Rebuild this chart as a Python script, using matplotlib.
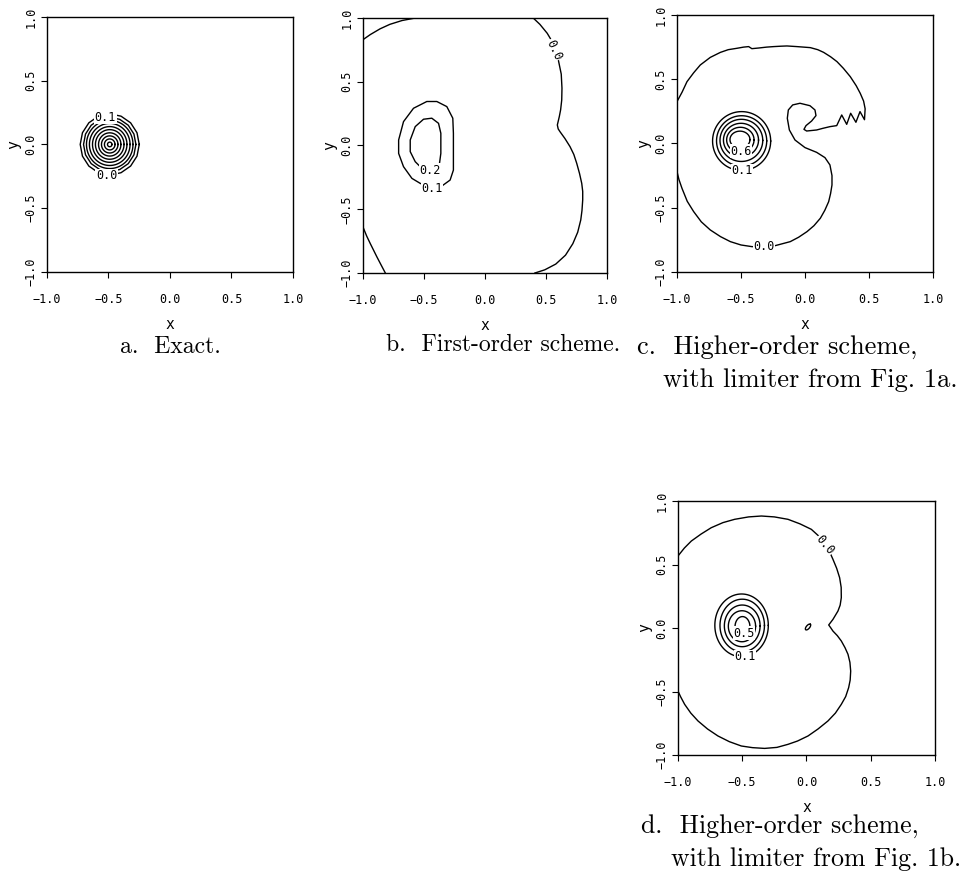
import numpy as np
import matplotlib.pyplot as plt

# tick values shared by all four panels
ticks = [-1.0, -0.5, 0.0, 0.5, 1.0]
tick_labels = ["\u22121.0", "\u22120.5", "0.0", "0.5", "1.0"]

# a. exact solution: concentric rings, levels 0.0 .. 0.9
a_center = (-0.49, 0.0)
a_levels = [0.0, 0.1, 0.2, 0.3, 0.4, 0.5, 0.6, 0.7, 0.8, 0.9]
a_radii = [0.240, 0.213, 0.189, 0.165, 0.140, 0.116, 0.091, 0.067, 0.043, 0.018]

# b. first-order scheme
b_c00_x = [0.395, 0.45, 0.51, 0.56, 0.601, 0.625, 0.631, 0.629, 0.62, 0.609, 0.593, 0.600,
           0.615, 0.655, 0.697, 0.728, 0.752, 0.775, 0.793, 0.801, 0.801, 0.795, 0.785, 0.76,
           0.72, 0.66, 0.58, 0.49, 0.409]
b_c00_y = [1.0, 0.95, 0.88, 0.80, 0.671, 0.56, 0.45, 0.357, 0.28, 0.226, 0.161, 0.13,
           0.108, 0.055, -0.009, -0.07, -0.14, -0.22, -0.297, -0.36, -0.427, -0.51, -0.584, -0.68,
           -0.77, -0.86, -0.93, -0.975, -1.0]
b_tl_x = [-1.0, -0.94, -0.86, -0.78, -0.68, -0.57]
b_tl_y = [0.83, 0.87, 0.915, 0.95, 0.98, 1.0]
b_bl_x = [-1.0, -0.97, -0.94, -0.886, -0.85, -0.817]
b_bl_y = [-0.64, -0.71, -0.77, -0.874, -0.94, -1.0]
b_c01_x = [-0.436, -0.354, -0.286, -0.259, -0.259, -0.259, -0.264, -0.313, -0.395, -0.477,
           -0.586, -0.668, -0.708, -0.708, -0.668, -0.599, -0.531, -0.436]
b_c01_y = [-0.337, -0.318, -0.271, -0.193, -0.035, 0.096, 0.214, 0.305, 0.345, 0.345,
           0.292, 0.187, 0.043, -0.062, -0.166, -0.258, -0.297, -0.337]
b_c02_x = [-0.45, -0.373, -0.362, -0.362, -0.381, -0.436, -0.504, -0.572, -0.613, -0.613,
           -0.572, -0.531, -0.45]
b_c02_y = [-0.193, -0.140, -0.062, 0.096, 0.174, 0.214, 0.206, 0.148, 0.043, -0.048,
           -0.127, -0.166, -0.193]

# c. higher-order scheme, limiter from Fig. 1a
c_c00_x = [-1.0, -0.96, -0.922, -0.87, -0.818, -0.74, -0.661, -0.6, -0.531, -0.48, -0.44,
           -0.415, -0.362, -0.30, -0.245, -0.19, -0.141, -0.0625, 0.042, 0.10, 0.146, 0.20,
           0.25, 0.30, 0.354, 0.40, 0.432, 0.458, 0.47, 0.465, 0.430, 0.398, 0.357, 0.326,
           0.287, 0.248, 0.195, 0.14, 0.091, 0.013, -0.008, 0.008, 0.052, 0.086, 0.078, 0.039,
           -0.039, -0.096, -0.130, -0.138, -0.122, -0.078, 0.0, 0.091, 0.156, 0.195, 0.211,
           0.211, 0.20, 0.185, 0.155, 0.12, 0.07, 0.016, -0.05, -0.115, -0.232, -0.318, -0.414,
           -0.50, -0.583, -0.66, -0.74, -0.81, -0.87, -0.92, -0.961, -0.985, -1.0]
c_c00_y = [0.326, 0.40, 0.481, 0.55, 0.611, 0.67, 0.709, 0.73, 0.741, 0.75, 0.754,
           0.738, 0.743, 0.75, 0.754, 0.757, 0.759, 0.754, 0.746, 0.73, 0.709, 0.675,
           0.637, 0.585, 0.52, 0.45, 0.39, 0.33, 0.27, 0.185, 0.248, 0.165, 0.235, 0.149,
           0.222, 0.139, 0.131, 0.118, 0.105, 0.097, 0.110, 0.139, 0.175, 0.217, 0.261, 0.294,
           0.313, 0.300, 0.261, 0.196, 0.105, 0.027, -0.032, -0.069, -0.110, -0.167, -0.25,
           -0.323, -0.39, -0.453, -0.52, -0.582, -0.64, -0.686, -0.73, -0.764, -0.795, -0.803, -0.803,
           -0.79, -0.764, -0.725, -0.673, -0.61, -0.530, -0.45, -0.349, -0.28, -0.219]
c_ring_cx = [-0.495, -0.495, -0.497, -0.500, -0.505, -0.508]
c_ring_cy = [0.019, 0.020, 0.024, 0.026, 0.028, 0.030]
c_ring_rx = [0.227, 0.196, 0.167, 0.137, 0.107, 0.078]
c_ring_ry = [0.229, 0.196, 0.164, 0.131, 0.098, 0.066]

# d. higher-order scheme, limiter from Fig. 1b
d_c00_x = [-1.0, -0.95, -0.896, -0.82, -0.741, -0.65, -0.559, -0.45, -0.351, -0.25, -0.144,
           -0.05, 0.038, 0.10, 0.141, 0.18, 0.206, 0.235, 0.258, 0.27, 0.271, 0.262, 0.245,
           0.225, 0.206, 0.173, 0.19, 0.206, 0.24, 0.271, 0.30, 0.323, 0.338, 0.344, 0.34,
           0.328, 0.305, 0.271, 0.225, 0.167, 0.09, 0.012, -0.07, -0.144, -0.23, -0.326, -0.42,
           -0.507, -0.60, -0.689, -0.77, -0.844, -0.90, -0.948, -0.98, -1.0]
d_c00_y = [0.567, 0.63, 0.685, 0.74, 0.79, 0.83, 0.856, 0.875, 0.882, 0.875, 0.856,
           0.82, 0.777, 0.72, 0.659, 0.60, 0.541, 0.47, 0.396, 0.32, 0.239, 0.18, 0.134,
           0.10, 0.068, 0.024, 0.0, -0.024, -0.06, -0.102, -0.155, -0.207, -0.27, -0.339, -0.41,
           -0.47, -0.54, -0.601, -0.67, -0.732, -0.795, -0.85, -0.89, -0.916, -0.94, -0.948, -0.942,
           -0.929, -0.895, -0.85, -0.795, -0.732, -0.67, -0.601, -0.54, -0.496]
d_blob = (0.012, 0.008, 0.028, 0.013, 50)  # cx, cy, a, b, angle in degrees
d_ring_cx = [-0.505, -0.500, -0.500, -0.502, -0.498]
d_ring_cy = [0.021, 0.020, 0.017, 0.014, 0.010]
d_ring_rx = [0.208, 0.173, 0.139, 0.106, 0.058]
d_ring_ry = [0.247, 0.207, 0.164, 0.122, 0.080]

mono = "DejaVu Sans Mono"
serif = "cmr10"
lw = 1.0


def ring(ax, cx, cy, rx, ry, n=120, ang=0.0):
    t = np.linspace(0, 2 * np.pi, n + 1)
    px = rx * np.cos(t)
    py = ry * np.sin(t)
    ca, sa = np.cos(np.radians(ang)), np.sin(np.radians(ang))
    ax.plot(cx + px * ca - py * sa, cy + px * sa + py * ca, color="black", lw=lw)


def label(ax, x, y, s, rot=0):
    ax.text(x, y, s, fontfamily=mono, fontsize=8.5, ha="center", va="center",
            rotation=rot, zorder=5,
            bbox=dict(fc="white", ec="none", pad=0.3))


def setup(ax):
    ax.set_xlim(-1, 1)
    ax.set_ylim(-1, 1)
    ax.set_xticks(ticks)
    ax.set_yticks(ticks)
    ax.set_xticklabels(tick_labels, fontfamily=mono, fontsize=8.5)
    ax.set_yticklabels(tick_labels, fontfamily=mono, fontsize=8.5, rotation=90, va="center")
    ax.tick_params(axis="x", direction="out", length=4, width=0.8, pad=11)
    ax.tick_params(axis="y", direction="out", length=4, width=0.8, pad=3)
    ax.set_xlabel("x", fontfamily=mono, fontsize=10.5, labelpad=8)
    ax.set_ylabel("y", fontfamily=mono, fontsize=10.5, labelpad=2)
    for sp in ax.spines.values():
        sp.set_linewidth(1.0)


fig = plt.figure(figsize=(9.67, 8.77), dpi=100)
ax_a = fig.add_axes([0.0486, 0.6899, 0.2544, 0.2908])
ax_b = fig.add_axes([0.3754, 0.6887, 0.2523, 0.2908])
ax_c = fig.add_axes([0.7001, 0.6899, 0.2647, 0.2930])
ax_d = fig.add_axes([0.7011, 0.1391, 0.2658, 0.2896])
for ax in (ax_a, ax_b, ax_c, ax_d):
    setup(ax)

# a
for lev, r in zip(a_levels, a_radii):
    n = 16 if lev < 0.15 else 120
    ring(ax_a, a_center[0], a_center[1], r, r, n=n)
label(ax_a, -0.525, 0.215, "0.1")
label(ax_a, -0.515, -0.245, "0.0")

# b
ax_b.plot(b_c00_x, b_c00_y, color="black", lw=lw)
ax_b.plot(b_tl_x, b_tl_y, color="black", lw=lw)
ax_b.plot(b_bl_x, b_bl_y, color="black", lw=lw)
ax_b.plot(b_c01_x, b_c01_y, color="black", lw=lw)
ax_b.plot(b_c02_x, b_c02_y, color="black", lw=lw)
label(ax_b, 0.565, 0.75, "0.0", rot=-65)
label(ax_b, -0.45, -0.193, "0.2")
label(ax_b, -0.436, -0.337, "0.1")

# c
ax_c.plot(c_c00_x, c_c00_y, color="black", lw=lw)
for cx, cy, rx, ry in zip(c_ring_cx, c_ring_cy, c_ring_rx, c_ring_ry):
    ring(ax_c, cx, cy, rx, ry)
label(ax_c, -0.50, -0.06, "0.6")
label(ax_c, -0.49, -0.212, "0.1")
label(ax_c, -0.318, -0.803, "0.0")

# d
ax_d.plot(d_c00_x, d_c00_y, color="black", lw=lw)
ring(ax_d, d_blob[0], d_blob[1], d_blob[2], d_blob[3], ang=d_blob[4])
for cx, cy, rx, ry in zip(d_ring_cx, d_ring_cy, d_ring_rx, d_ring_ry):
    ring(ax_d, cx, cy, rx, ry)
label(ax_d, -0.484, -0.04, "0.5")
label(ax_d, -0.479, -0.225, "0.1")
label(ax_d, 0.145, 0.655, "0.0", rot=-50)

# captions
cap = dict(fontfamily=serif, va="center")
fig.text(170 / 967, 1 - 347 / 877, "a.  Exact.", ha="center", fontsize=17, **cap)
fig.text(503 / 967, 1 - 345 / 877, "b.  First-order scheme.", ha="center", fontsize=17, **cap)
fig.text(637 / 967, 1 - 347 / 877, "c.  Higher-order scheme,", ha="left", fontsize=19, **cap)
fig.text(663 / 967, 1 - 380 / 877, "with limiter from Fig. 1a.", ha="left", fontsize=19, **cap)
fig.text(641 / 967, 1 - 826 / 877, "d.  Higher-order scheme,", ha="left", fontsize=18.6, **cap)
fig.text(671 / 967, 1 - 859 / 877, "with limiter from Fig. 1b.", ha="left", fontsize=18.6, **cap)

fig.savefig("out.png", dpi=100)
